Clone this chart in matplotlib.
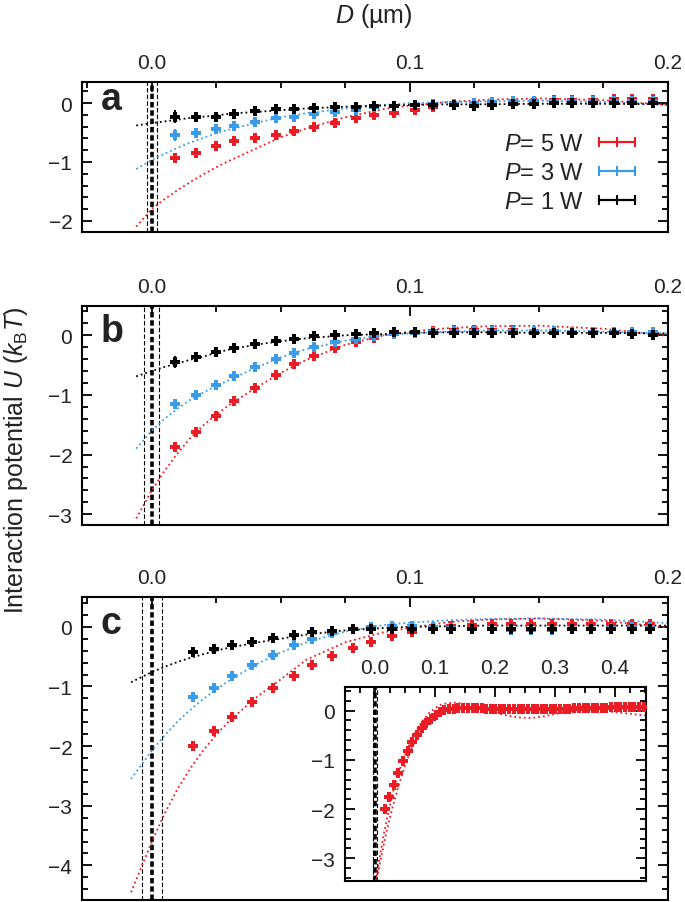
import numpy as np
import matplotlib.pyplot as plt
import matplotlib.transforms as mtransforms
from matplotlib.lines import Line2D
from matplotlib.ticker import FixedLocator, MultipleLocator

plt.rcParams['font.family'] = ['Liberation Sans', 'DejaVu Sans']
plt.rcParams['mathtext.fontset'] = 'custom'
plt.rcParams['mathtext.rm'] = 'Liberation Sans'
plt.rcParams['mathtext.it'] = 'Liberation Sans:italic'
plt.rcParams['mathtext.bf'] = 'Liberation Sans:bold'

red = '#ec1c24'
blue = '#3a9be9'
black = 'k'

powers = [5, 3, 1]  # laser power (W), legend order

# distance D (um) of the measured points
d_ab = [0.009, 0.017, 0.025, 0.032, 0.040, 0.048, 0.055, 0.063, 0.071, 0.079,
        0.086, 0.094, 0.102, 0.109, 0.117, 0.125, 0.132, 0.140, 0.148, 0.156,
        0.163, 0.171, 0.179, 0.186, 0.194]
d_c = [0.016, 0.024, 0.031, 0.039, 0.047, 0.055, 0.062, 0.070, 0.078, 0.085,
       0.093, 0.101, 0.109, 0.116, 0.124, 0.132, 0.139, 0.147, 0.155, 0.163,
       0.170, 0.178, 0.186, 0.193,
       0.201, 0.209, 0.216, 0.224, 0.232, 0.240, 0.247, 0.255, 0.263, 0.270,
       0.278, 0.286, 0.294, 0.301, 0.309, 0.317, 0.324, 0.332, 0.340, 0.348,
       0.355, 0.363, 0.371, 0.378, 0.386, 0.394, 0.402, 0.409, 0.417, 0.425,
       0.432, 0.440, 0.448]

# panel a
a_red = [-0.94, -0.84, -0.73, -0.65, -0.59, -0.54, -0.47, -0.40, -0.33, -0.26,
         -0.20, -0.16, -0.11, -0.07, -0.03, 0.00, 0.01, 0.03, 0.04, 0.05,
         0.05, 0.06, 0.07, 0.07, 0.07]
a_red_err = [0.08, 0.06, 0.05, 0.04, 0.04, 0.03, 0.03, 0.03, 0.03, 0.03,
             0.03, 0.03, 0.03, 0.02, 0.02, 0.02, 0.02, 0.02, 0.02, 0.02,
             0.02, 0.02, 0.02, 0.02, 0.02]
a_blue = [-0.54, -0.50, -0.44, -0.38, -0.32, -0.26, -0.23, -0.19, -0.15, -0.11,
          -0.07, -0.05, -0.03, -0.02, -0.01, 0.01, 0.02, 0.03, 0.03, 0.04,
          0.04, 0.04, 0.04, 0.04, 0.04]
a_blue_err = [0.10, 0.08, 0.06, 0.05, 0.04, 0.03, 0.03, 0.03, 0.03, 0.02,
              0.02, 0.02, 0.02, 0.02, 0.02, 0.02, 0.02, 0.02, 0.02, 0.02,
              0.02, 0.02, 0.02, 0.02, 0.02]
a_black = [-0.23, -0.24, -0.24, -0.19, -0.14, -0.10, -0.10, -0.09, -0.07, -0.06,
           -0.05, -0.05, -0.03, -0.03, -0.03, -0.04, -0.03, -0.02, -0.01, 0.00,
           0.01, 0.01, 0.01, 0.01, 0.01]
a_black_err = [0.11, 0.08, 0.05, 0.04, 0.03, 0.03, 0.02, 0.02, 0.02, 0.02,
               0.02, 0.02, 0.02, 0.02, 0.02, 0.02, 0.02, 0.02, 0.02, 0.02,
               0.02, 0.02, 0.02, 0.02, 0.02]

# panel b
b_red = [-1.87, -1.62, -1.36, -1.10, -0.88, -0.67, -0.49, -0.34, -0.21, -0.11,
         -0.04, 0.02, 0.05, 0.07, 0.08, 0.08, 0.08, 0.08, 0.07, 0.07,
         0.06, 0.06, 0.05, 0.05, 0.03]
b_red_err = [0.05, 0.04, 0.04, 0.03, 0.03, 0.03, 0.03, 0.02, 0.02, 0.02,
             0.02, 0.02, 0.02, 0.02, 0.02, 0.02, 0.02, 0.02, 0.02, 0.02,
             0.02, 0.02, 0.02, 0.02, 0.02]
b_blue = [-1.16, -1.00, -0.84, -0.68, -0.53, -0.40, -0.29, -0.19, -0.12, -0.07,
          -0.02, 0.02, 0.04, 0.06, 0.07, 0.07, 0.07, 0.07, 0.07, 0.07,
          0.06, 0.06, 0.06, 0.06, 0.05]
b_blue_err = [0.04, 0.04, 0.03, 0.03, 0.03, 0.02, 0.02, 0.02, 0.02, 0.02,
              0.02, 0.02, 0.02, 0.02, 0.02, 0.02, 0.02, 0.02, 0.02, 0.02,
              0.02, 0.02, 0.02, 0.02, 0.02]
b_black = [-0.45, -0.36, -0.28, -0.21, -0.15, -0.10, -0.06, -0.02, 0.00, 0.02,
           0.04, 0.05, 0.05, 0.04, 0.03, 0.03, 0.03, 0.03, 0.03, 0.03,
           0.03, 0.03, 0.03, 0.02, 0.01]
b_black_err = [0.10, 0.06, 0.04, 0.03, 0.03, 0.02, 0.02, 0.02, 0.02, 0.02,
               0.02, 0.02, 0.02, 0.02, 0.02, 0.02, 0.02, 0.02, 0.02, 0.02,
               0.02, 0.02, 0.02, 0.02, 0.02]

# panel c (red also continues in the inset)
c_red = [-1.99, -1.75, -1.51, -1.26, -1.03, -0.82, -0.64, -0.49, -0.36, -0.25,
         -0.16, -0.08, -0.03, 0.02, 0.03, 0.04, 0.045, 0.05, 0.05, 0.05,
         0.05, 0.05, 0.04, 0.04,
         0.04, 0.04, 0.03, 0.03, 0.03, 0.03, 0.03, 0.03, 0.03, 0.03,
         0.03, 0.03, 0.03, 0.04, 0.04, 0.04, 0.04, 0.05, 0.05, 0.05,
         0.05, 0.06, 0.06, 0.06, 0.06, 0.07, 0.07, 0.07, 0.07, 0.07,
         0.08, 0.08, 0.08]
c_red_err = [0.05, 0.04, 0.03, 0.03, 0.03, 0.03, 0.02, 0.02, 0.02, 0.02,
             0.02, 0.02, 0.02, 0.02, 0.02, 0.02, 0.02, 0.02, 0.02, 0.02,
             0.02, 0.02, 0.02, 0.02,
             0.02, 0.02, 0.02, 0.02, 0.02, 0.02, 0.02, 0.02, 0.02, 0.02,
             0.02, 0.02, 0.02, 0.02, 0.02, 0.02, 0.02, 0.02, 0.02, 0.02,
             0.02, 0.02, 0.02, 0.02, 0.02, 0.02, 0.02, 0.02, 0.02, 0.02,
             0.02, 0.02, 0.02]
c_blue = [-1.18, -1.02, -0.82, -0.64, -0.47, -0.31, -0.20, -0.11, -0.04, 0.00,
          0.02, 0.02, 0.00, -0.02, -0.03, -0.04, -0.05, -0.05, -0.05, -0.04,
          -0.03, -0.02, -0.01, 0.00]
c_blue_err = [0.08, 0.06, 0.05, 0.04, 0.03, 0.03, 0.02, 0.02, 0.02, 0.02,
              0.02, 0.02, 0.02, 0.02, 0.02, 0.02, 0.02, 0.02, 0.02, 0.02,
              0.02, 0.02, 0.02, 0.02]
c_black = [-0.43, -0.37, -0.31, -0.25, -0.19, -0.14, -0.09, -0.07, -0.04, -0.03,
           -0.03, -0.03, -0.04, -0.04, -0.04, -0.04, -0.04, -0.04, -0.04, -0.04,
           -0.04, -0.04, -0.04, -0.03]
c_black_err = [0.06, 0.05, 0.03, 0.03, 0.02, 0.02, 0.02, 0.02, 0.02, 0.02,
               0.02, 0.02, 0.02, 0.02, 0.02, 0.02, 0.02, 0.02, 0.02, 0.02,
               0.02, 0.02, 0.02, 0.02]

# fitted potentials (dotted)
fit_x_ab = [-0.006, 0.0, 0.005, 0.01, 0.015, 0.02, 0.025, 0.03, 0.04, 0.05,
            0.06, 0.075, 0.09, 0.1, 0.115, 0.13, 0.15, 0.175, 0.2]
fit_x_c = [-0.008, 0.0, 0.005, 0.01, 0.015, 0.02, 0.025, 0.03, 0.04, 0.05,
           0.06, 0.075, 0.09, 0.1, 0.115, 0.13, 0.15, 0.175, 0.2]
a_red_fit = [-2.10, -1.80, -1.63, -1.48, -1.34, -1.21, -1.09, -0.98, -0.78, -0.58,
             -0.43, -0.24, -0.10, -0.04, 0.02, 0.06, 0.08, 0.05, -0.03]
a_blue_fit = [-1.12, -0.97, -0.86, -0.76, -0.67, -0.59, -0.51, -0.45, -0.34, -0.24,
              -0.17, -0.09, -0.03, 0.00, 0.02, 0.03, 0.04, 0.02, -0.03]
a_black_fit = [-0.38, -0.34, -0.31, -0.28, -0.25, -0.23, -0.21, -0.18, -0.15, -0.12,
               -0.09, -0.06, -0.04, -0.03, -0.02, -0.02, -0.01, -0.01, -0.02]
b_red_fit = [-3.07, -2.60, -2.27, -1.98, -1.72, -1.51, -1.33, -1.17, -0.89, -0.63,
             -0.41, -0.16, 0.00, 0.06, 0.12, 0.15, 0.16, 0.11, -0.01]
b_blue_fit = [-1.90, -1.60, -1.40, -1.23, -1.08, -0.96, -0.85, -0.75, -0.55, -0.37,
              -0.23, -0.09, 0.00, 0.03, 0.06, 0.08, 0.08, 0.06, 0.03]
b_black_fit = [-0.69, -0.60, -0.53, -0.47, -0.41, -0.36, -0.29, -0.24, -0.16, -0.10,
               -0.05, 0.00, 0.02, 0.04, 0.05, 0.05, 0.04, 0.04, 0.03]
c_red_fit = [-4.45, -3.61, -3.13, -2.72, -2.37, -2.07, -1.81, -1.58, -1.20, -0.88,
             -0.55, -0.26, -0.09, -0.02, 0.08, 0.12, 0.14, 0.10, -0.01]
c_blue_fit = [-2.55, -2.08, -1.82, -1.59, -1.39, -1.21, -1.05, -0.90, -0.64, -0.43,
              -0.26, -0.08, 0.03, 0.07, 0.11, 0.13, 0.14, 0.12, 0.06]
c_black_fit = [-0.93, -0.76, -0.67, -0.59, -0.52, -0.46, -0.40, -0.35, -0.27, -0.20,
               -0.13, -0.06, -0.02, 0.00, 0.01, 0.02, 0.02, 0.02, 0.02]

# inset: two fits of the 5 W data over the longer range
inset_fit_x = [0.0, 0.005, 0.01, 0.015, 0.02, 0.03, 0.04, 0.05, 0.06, 0.07,
               0.08, 0.09, 0.1, 0.11, 0.12, 0.135, 0.15, 0.165, 0.18, 0.2,
               0.22, 0.24, 0.26, 0.28, 0.30, 0.32, 0.34, 0.37, 0.40, 0.43, 0.452]
inset_fit_1 = [-3.55, -3.20, -2.83, -2.50, -2.20, -1.65, -1.24, -0.90, -0.61, -0.39,
               -0.20, -0.05, 0.05, 0.12, 0.15, 0.16, 0.14, 0.10, 0.03, -0.04,
               -0.10, -0.14, -0.15, -0.12, -0.07, -0.02, 0.01, 0.03, 0.04, 0.04, 0.04]
inset_fit_2 = [-3.60, -3.30, -3.00, -2.70, -2.42, -1.93, -1.50, -1.12, -0.80, -0.54,
               -0.33, -0.18, -0.07, 0.00, 0.03, 0.05, 0.05, 0.04, 0.03, 0.02,
               0.02, 0.02, 0.02, 0.03, 0.03, 0.03, 0.02, 0.00, -0.03, -0.07, -0.10]

# half width of the wall position uncertainty (um)
wall_halfwidth = [0.0019, 0.0028, 0.0039]

fig = plt.figure(figsize=(6.85, 9.03), dpi=100)
ax_a = fig.add_axes([0.1197, 0.7420, 0.8555, 0.1661])
ax_b = fig.add_axes([0.1197, 0.4175, 0.8555, 0.2425])
ax_c = fig.add_axes([0.1197, 0.0022, 0.8555, 0.3356])
ax_in = fig.add_axes([0.5036, 0.0233, 0.4394, 0.2148])


def style(ax, xticks, xlim, ylim):
    ax.set_xlim(xlim)
    ax.set_ylim(ylim)
    ax.xaxis.set_ticks_position('top')
    ax.yaxis.set_ticks_position('both')
    ax.xaxis.set_major_locator(FixedLocator(xticks))
    ax.set_xticklabels(['%.1f' % t for t in xticks])
    ax.xaxis.set_minor_locator(MultipleLocator(0.025))
    ax.yaxis.set_major_locator(MultipleLocator(1))
    ax.yaxis.set_minor_locator(MultipleLocator(0.2))
    ax.tick_params(which='both', direction='in', width=1.3, labelsize=15,
                   colors='k', labelcolor='#222222')
    ax.tick_params(which='major', length=7)
    ax.tick_params(which='minor', length=4.5)
    ax.tick_params(axis='x', which='major', pad=7)
    ax.tick_params(axis='y', which='major', pad=7)
    for s in ax.spines.values():
        s.set_linewidth(1.5)


def walls(ax, h):
    ax.axvline(0, color='k', lw=2.6, ls=(0, (1.5, 0.8)), zorder=1)
    ax.axvline(-h, color='k', lw=0.8, ls=(0, (4, 2)), zorder=1)
    ax.axvline(h, color='k', lw=0.8, ls=(0, (4, 2)), zorder=1)


def points(ax, d, y, err, c, z):
    ax.errorbar(d, y, yerr=err, fmt='P', color=c, ms=7, mew=0,
                elinewidth=1.4, capsize=2.5, capthick=1.4, zorder=z)


panels = [
    (ax_a, 'a', (-2.19, 0.36), wall_halfwidth[0], d_ab, fit_x_ab,
     [(a_red, a_red_err, a_red_fit, red), (a_blue, a_blue_err, a_blue_fit, blue),
      (a_black, a_black_err, a_black_fit, black)]),
    (ax_b, 'b', (-3.18, 0.49), wall_halfwidth[1], d_ab, fit_x_ab,
     [(b_red, b_red_err, b_red_fit, red), (b_blue, b_blue_err, b_blue_fit, blue),
      (b_black, b_black_err, b_black_fit, black)]),
    (ax_c, 'c', (-4.58, 0.5), wall_halfwidth[2], d_c, fit_x_c,
     [(c_red, c_red_err, c_red_fit, red), (c_blue, c_blue_err, c_blue_fit, blue),
      (c_black, c_black_err, c_black_fit, black)]),
]

for ax, letter, ylim, h, d, fx, series in panels:
    style(ax, [0.0, 0.1, 0.2], (-0.027, 0.2), ylim)
    walls(ax, h)
    for k, (y, err, fit, c) in enumerate(series):
        ax.plot(fx, fit, ls=':', lw=1.3, color=c, zorder=2)
        # main panels only show D < 0.2 um
        n = min(len(y), len(d), 24 if ax is ax_c else 25)
        points(ax, d[:n], y[:n], err[:n], c, 3 + k)
    trans = mtransforms.blended_transform_factory(ax.transAxes, ax.transData)
    ax.text(0.032, -0.1, letter, transform=trans, fontsize=27,
            fontweight='bold', color='#222222', va='baseline', zorder=6)

# inset
style(ax_in, [0.0, 0.1, 0.2, 0.3, 0.4], (-0.05, 0.452), (-3.46, 0.48))
walls(ax_in, wall_halfwidth[2])
ax_in.plot(inset_fit_x, inset_fit_1, ls=':', lw=1.3, color=red, zorder=2)
ax_in.plot(inset_fit_x, inset_fit_2, ls=':', lw=1.3, color=red, zorder=2)
points(ax_in, d_c, c_red, c_red_err, red, 3)
ax_in.set_zorder(5)

# legend
handles = [Line2D([], [], color=c, marker='|', ms=7, mew=1.5, lw=1.6)
           for c in [red, blue, black]]
labels = ['$P$= %d W' % p for p in powers]
ax_a.legend(handles, labels, numpoints=3, markerfirst=False, frameon=False,
            loc='upper right', bbox_to_anchor=(0.955, 0.66), fontsize=17,
            handlelength=2.1, handletextpad=0.35, labelspacing=0.3,
            borderaxespad=0, borderpad=0, labelcolor='#222222')

fig.text(0.546, 0.982, '$D$ (µm)', ha='center', va='center', fontsize=18,
         color='#222222')
fig.text(0.024, 0.49, 'Interaction potential $U$ ($k_\\mathrm{B}T$)',
         rotation=90, ha='center', va='center', fontsize=18, color='#222222')

fig.savefig('out.png', dpi=100)
